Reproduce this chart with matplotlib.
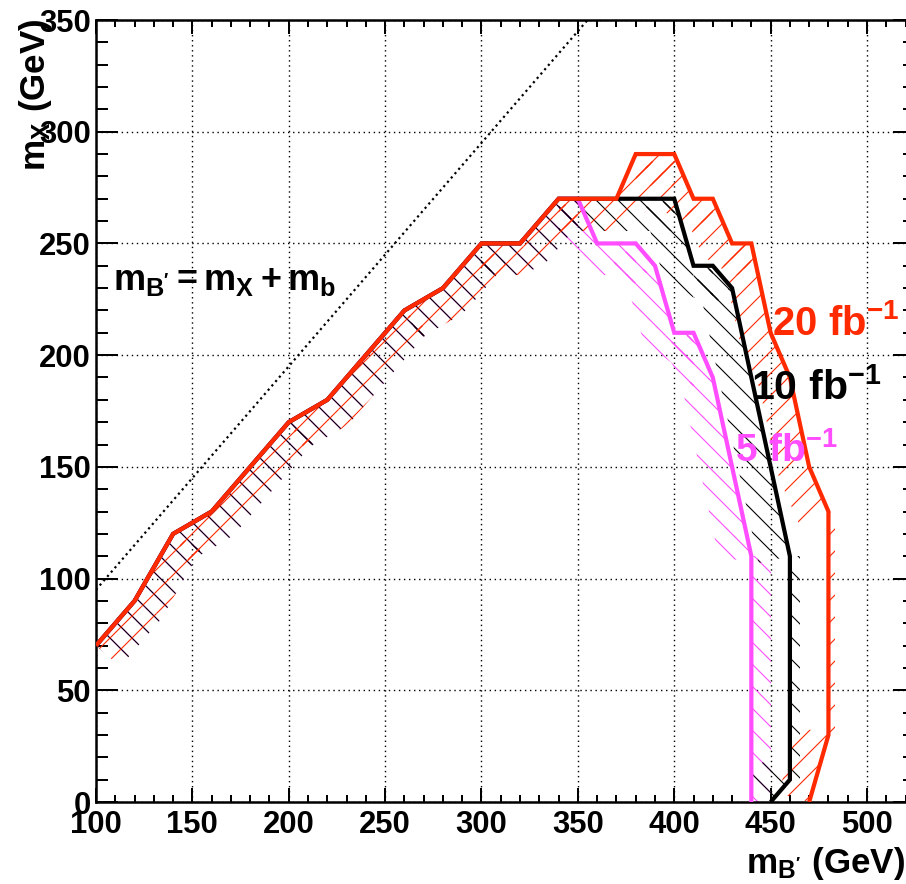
import numpy as np
import matplotlib
matplotlib.use("Agg")
import matplotlib.pyplot as plt
from matplotlib.patches import Polygon
from matplotlib.ticker import MultipleLocator

# ---------------- data ----------------
left_x = [100, 120, 140, 160, 180, 200, 220, 240, 260, 280, 300, 320, 340]
left_y = [70, 90, 120, 130, 150, 170, 180, 200, 220, 230, 250, 250, 270]

red_x = left_x + [370, 380, 400, 410, 420, 430, 440, 450, 460, 470, 480, 480, 470]
red_y = left_y + [270, 290, 290, 270, 270, 250, 250, 210, 190, 150, 130, 30, 0]

black_x = left_x + [400, 410, 420, 430, 440, 450, 460, 460, 450]
black_y = left_y + [270, 240, 240, 230, 190, 150, 110, 10, 0]

mag_x = left_x + [350, 360, 380, 390, 400, 410, 420, 430, 440, 440]
mag_y = left_y + [270, 250, 250, 240, 210, 210, 190, 150, 110, 0]

kin_x = [100, 355]          # m_B' = m_X + m_b
kin_y = [95, 350]

x_ticks = [100, 150, 200, 250, 300, 350, 400, 450, 500]
y_ticks = [0, 50, 100, 150, 200, 250, 300, 350]

RED = "#ff2a00"
MAG = "#ff4dff"
BLK = "#000000"

# ---------------- figure ----------------
DPI = 66
W, H = 906, 884
PT = 72.0 / DPI  # px -> pt

plt.rcParams["font.family"] = ["Liberation Sans", "DejaVu Sans"]
plt.rcParams["font.weight"] = "bold"
plt.rcParams["mathtext.fontset"] = "custom"
plt.rcParams["mathtext.rm"] = "Liberation Sans:bold"
plt.rcParams["mathtext.bf"] = "Liberation Sans:bold"
plt.rcParams["mathtext.it"] = "Liberation Sans:bold"
plt.rcParams["mathtext.sf"] = "Liberation Sans:bold"
plt.rcParams["hatch.linewidth"] = 1.1 * PT

fig = plt.figure(figsize=(W / DPI, H / DPI), dpi=DPI)
xmin, xmax = 100, 525
ymin, ymax = 0, 350
px_per_x = (867 - 96) / 400.0
ax_left, ax_bottom_px, ax_top_px = 96, 802, 20
ax = fig.add_axes([ax_left / W, (H - ax_bottom_px) / H,
                   (xmax - xmin) * px_per_x / W, (ax_bottom_px - ax_top_px) / H])
ax.set_xlim(xmin, xmax)
ax.set_ylim(ymin, ymax)

# grid
ax.set_axisbelow(True)
ax.xaxis.set_major_locator(MultipleLocator(50))
ax.xaxis.set_minor_locator(MultipleLocator(10))
ax.yaxis.set_major_locator(MultipleLocator(50))
ax.yaxis.set_minor_locator(MultipleLocator(10))
ax.grid(True, which="major", color="black", linestyle=(0, (1, 2.6)), linewidth=1.4 * PT)

for s in ax.spines.values():
    s.set_linewidth(2.5 * PT)

ax.tick_params(which="both", direction="in", top=True, right=True, width=2 * PT,
               labelsize=31 * PT)
ax.tick_params(axis="x", which="major", length=14 * PT, pad=8 * PT)
ax.tick_params(axis="x", which="minor", length=7 * PT)
ax.tick_params(axis="y", which="major", length=22 * PT, pad=5 * PT)
ax.tick_params(axis="y", which="minor", length=12 * PT)
ax.set_xticks(x_ticks)
ax.set_xticklabels([str(v) for v in x_ticks], fontweight="bold")
ax.set_yticks(y_ticks)
ax.set_yticklabels([str(v) for v in y_ticks], fontweight="bold")

fig.canvas.draw()


def hatched_band(xs, ys, width_px, vert_width_px, color, hatch, zorder):
    T = ax.transData
    inv = T.inverted()
    P = T.transform(np.column_stack([xs, ys]).astype(float))
    segs = []
    for i in range(len(P) - 1):
        d = P[i + 1] - P[i]
        L = np.hypot(*d)
        if L == 0:
            continue
        n = np.array([d[1], -d[0]]) / L
        vertical = abs(d[0]) < 1e-6
        segs.append((i, n, vertical))
    clip_pts = list(zip(xs, ys)) + [(xmin, 0)]
    clip = Polygon(clip_pts, closed=True, transform=ax.transData)
    polys_in, polys_out = [], []
    for k, (i, n, vertical) in enumerate(segs):
        if vertical:
            w = -vert_width_px
            q = [P[i], P[i + 1], P[i + 1] + n * w, P[i] + n * w]
            polys_out.append(q)
        else:
            w = width_px
            q = [P[i], P[i + 1], P[i + 1] + n * w, P[i] + n * w]
            polys_in.append(q)
            if k + 1 < len(segs) and not segs[k + 1][2]:
                n2 = segs[k + 1][1]
                j = i + 1
                polys_in.append([P[j], P[j] + n * w, P[j] + n2 * w])
    for q in polys_in:
        pd = inv.transform(np.array(q))
        p = Polygon(pd, closed=True, facecolor="none", edgecolor=color, linewidth=0,
                    hatch=hatch, zorder=zorder)
        ax.add_patch(p)
        p.set_clip_path(clip)
    for q in polys_out:
        pd = inv.transform(np.array(q))
        p = Polygon(pd, closed=True, facecolor="none", edgecolor=color, linewidth=0,
                    hatch=hatch, zorder=zorder)
        ax.add_patch(p)


BAND = 32
hatched_band(mag_x, mag_y, BAND, 20, MAG, "\\", 2)
hatched_band(black_x, black_y, BAND, 10, BLK, "\\", 3)
hatched_band(red_x, red_y, BAND, 7, RED, "/", 4)

LW = 4.2 * PT
ax.plot(mag_x, mag_y, color=MAG, lw=LW, zorder=5, solid_joinstyle="miter", solid_capstyle="butt")
ax.plot(black_x, black_y, color=BLK, lw=LW, zorder=6, solid_joinstyle="miter", solid_capstyle="butt")
ax.plot(red_x, red_y, color=RED, lw=LW, zorder=7, solid_joinstyle="miter", solid_capstyle="butt")

ax.plot(kin_x, kin_y, color="black", lw=2.2 * PT, linestyle=(0, (1, 1.6)), zorder=3)

# labels
ax.text(109, 229, r"$\mathbf{m_{B'} = m_X + m_b}$", fontsize=36 * PT, color="black",
        ha="left", va="baseline", zorder=10)
ax.text(450.5, 209, r"$\mathbf{20\ fb^{-1}}$", fontsize=40 * PT, color=RED,
        ha="left", va="baseline", zorder=10)
ax.text(440, 180, r"$\mathbf{10\ fb^{-1}}$", fontsize=41 * PT, color=BLK,
        ha="left", va="baseline", zorder=10)
ax.text(431.5, 152, r"$\mathbf{5\ fb^{-1}}$", fontsize=39 * PT, color=MAG,
        ha="left", va="baseline", zorder=10)

fig.text(905 / W, 1 - 873 / H, r"$\mathbf{m_{B'}\ (GeV)}$", fontsize=35 * PT,
         ha="right", va="baseline")
fig.text(36 / W, 1 - 18 / H, r"$\mathbf{m_X\ (GeV)}$", fontsize=35 * PT,
         rotation=90, ha="center", va="top")

fig.savefig("out.png", dpi=DPI)
